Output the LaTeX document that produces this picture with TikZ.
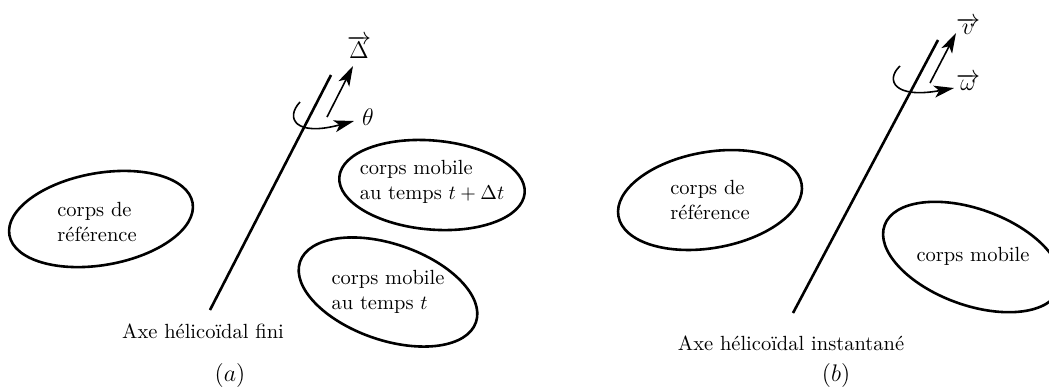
\documentclass[tikz,border=0pt]{standalone}
\usetikzlibrary{arrows.meta}
\begin{document}
\begin{tikzpicture}[x=0.5pt,y=-0.5pt,
  body/.style={line width=1.3pt},
  axisline/.style={line width=1.3pt},
  vecarrow/.style={line width=0.8pt,-{Stealth[length=10pt,width=6pt,inset=2.5pt]}},
  txt/.style={inner sep=0pt,align=left,font=\fontsize{10.25pt}{12.5pt}\selectfont},
  lbl/.style={inner sep=0pt,font=\fontsize{10.25pt}{12.5pt}\selectfont},
  big/.style={inner sep=0pt,font=\fontsize{12.5pt}{15pt}\selectfont}]
\useasboundingbox (0,0) rectangle (1049,387);
% ---------- (a) ----------
\coordinate (aBot) at (210,310);
\coordinate (aTop) at (331,75);
\draw[axisline] (aBot) -- (aTop);
\coordinate (dS) at (327,117);
\coordinate (dT) at (353,66);
\draw[vecarrow] (dS) -- (dT);
\coordinate (rS) at (300,102);
\coordinate (rT) at (354,121);
\draw[vecarrow] (rS) .. controls (285,118) and (295,137) .. (rT);
\node[big] (Delta) at (359,47) {$\overrightarrow{\Delta}$};
\node[big] (theta) at (368,117) {$\theta$};
\draw[body,rotate around={10:(101,219)}] (101,219) ellipse [x radius=93,y radius=46];
\node[txt] (refA) at (97,222) {corps de\\référence};
\draw[body,rotate around={-5:(432,185)}] (432,185) ellipse [x radius=93,y radius=44.5];
\node[txt] (mobDt) at (432,182) {corps mobile\\au temps $t+\Delta t$};
\draw[body,rotate around={-19:(388,292)}] (388,292) ellipse [x radius=93,y radius=48];
\node[txt] (mobT) at (388,292) {corps mobile\\au temps $t$};
\node[lbl] (axeA) at (203,331) {Axe hélicoïdal fini};
\node[big] (capA) at (230,375) {$(a)$};
% ---------- (b) ----------
\coordinate (bBot) at (793,313);
\coordinate (bTop) at (938,40);
\draw[axisline] (bBot) -- (bTop);
\coordinate (vS) at (930,83);
\coordinate (vT) at (956,33);
\draw[vecarrow] (vS) -- (vT);
\coordinate (wS) at (900,66);
\coordinate (wT) at (954,88);
\draw[vecarrow] (wS) .. controls (885,80) and (894,99) .. (wT);
\node[big] (vlab) at (968,26) {$\overrightarrow{v}$};
\node[big] (wlab) at (968,82) {$\overrightarrow{\omega}$};
\draw[body,rotate around={10:(710,200)}] (710,200) ellipse [x radius=93,y radius=48];
\node[txt] (refB) at (710,200) {corps de\\référence};
\draw[body,rotate around={-20:(972,257)}] (972,257) ellipse [x radius=93,y radius=48];
\node[txt] (mobB) at (973,256) {corps mobile};
\node[lbl] (axeB) at (791,343) {Axe hélicoïdal instantané};
\node[big] (capB) at (836,375) {$(b)$};
\end{tikzpicture}
\end{document}
